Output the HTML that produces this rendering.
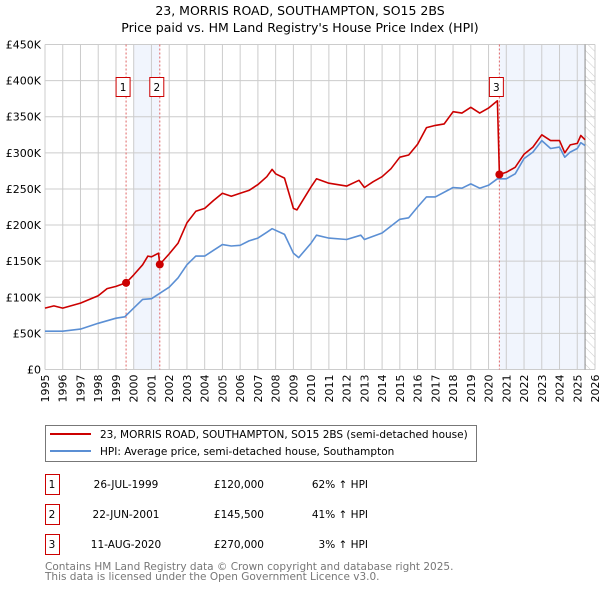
<!DOCTYPE html>
<html><head><meta charset="utf-8"><style>
body{margin:0;background:#fff;font-family:"DejaVu Sans","Liberation Sans",sans-serif;}
svg{display:block}
</style></head><body>
<svg id="c" width="600" height="590" xmlns="http://www.w3.org/2000/svg" font-family="DejaVu Sans, Liberation Sans, sans-serif">
<text x="300" y="15" text-anchor="middle" font-size="12.5">23, MORRIS ROAD, SOUTHAMPTON, SO15 2BS</text>
<text x="300" y="32" text-anchor="middle" font-size="12.5">Price paid vs. HM Land Registry's House Price Index (HPI)</text>
<g id="plot"></g>
<g>
<rect x="45.5" y="425.5" width="431" height="36" fill="#fff" stroke="#777"/>
<line x1="50" y1="434" x2="91" y2="434" stroke="#cc0000" stroke-width="2"/>
<text x="100" y="438" font-size="10.5">23, MORRIS ROAD, SOUTHAMPTON, SO15 2BS (semi-detached house)</text>
<line x1="50" y1="451" x2="91" y2="451" stroke="#5b8fd4" stroke-width="2"/>
<text x="100" y="455" font-size="10.5">HPI: Average price, semi-detached house, Southampton</text>
</g>
<g id="tbl" font-size="10.5"></g>
<text x="45" y="570" font-size="10.5" fill="#777">Contains HM Land Registry data © Crown copyright and database right 2025.</text>
<text x="45" y="580" font-size="10.5" fill="#777">This data is licensed under the Open Government Licence v3.0.</text>
</svg>
<script>
const hpiYears=[1995,1996,1997,1998,1999,1999.5,2000,2000.5,2001,2001.5,2002,2002.5,2003,2003.5,2004,2004.5,2005,2005.5,2006,2006.5,2007,2007.5,2007.8,2008.5,2009,2009.3,2010,2010.3,2011,2012,2012.8,2013,2014,2015,2015.5,2016,2016.5,2017,2018,2018.5,2019,2019.5,2020,2020.5,2021,2021.5,2022,2022.5,2023,2023.5,2024,2024.3,2024.6,2025,2025.2,2025.44];
const hpiValues=[53,53,56,64,71,73,85,97,98,106,114,127,145,157,157,165,173,171,172,178,182,190,195,187,161,155,175,186,182,180,186,180,189,208,210,225,239,239,252,251,257,251,255,264,264,271,292,301,317,306,308,294,301,306,314,310];
const priceYears=[1995,1995.5,1996,1997,1998,1998.5,1999,1999.57,2000,2000.5,2000.8,2001,2001.4,2001.47,2002,2002.5,2003,2003.5,2004,2004.5,2005,2005.5,2006,2006.5,2007,2007.5,2007.8,2008,2008.5,2009,2009.2,2010,2010.3,2011,2012,2012.7,2013,2013.5,2014,2014.5,2015,2015.5,2016,2016.5,2017,2017.5,2018,2018.5,2019,2019.5,2020,2020.5,2020.61,2021,2021.5,2022,2022.5,2023,2023.5,2024,2024.3,2024.6,2025,2025.2,2025.44];
const priceValues=[85,88,85,92,102,112,115,120,131,145,157,156,161,145.5,160,175,203,219,223,234,244,240,244,248,256,267,277,271,265,223,221,253,264,258,254,262,252,260,267,278,294,297,312,335,338,340,357,355,363,355,362,372,270,273,280,298,308,325,317,317,300,311,313,324,318];
const saleYears=[1999.57,2001.47,2020.61];
const saleValues=[120,145.5,270];
const saleLabels=["1","2","3"];
const saleDates=["26-JUL-1999","22-JUN-2001","11-AUG-2020"];
const salePrices=["£120,000","£145,500","£270,000"];
const saleDiffs=["62% ↑ HPI","41% ↑ HPI","3% ↑ HPI"];
const yTicks=[0,50,100,150,200,250,300,350,400,450];
const yTickLabels=["£0","£50K","£100K","£150K","£200K","£250K","£300K","£350K","£400K","£450K"];
const xTicks=[1995,1996,1997,1998,1999,2000,2001,2002,2003,2004,2005,2006,2007,2008,2009,2010,2011,2012,2013,2014,2015,2016,2017,2018,2019,2020,2021,2022,2023,2024,2025,2026];

const L=45,R=595,T=44.5,B=369.5;
const X=y=>L+(y-1995)/(2026-1995)*(R-L);
const Y=v=>B-v/450*(B-T);
const NS="http://www.w3.org/2000/svg";
const g=document.getElementById('plot');
function mk(tag,attrs,parent){const e=document.createElementNS(NS,tag);for(const k in attrs)e.setAttribute(k,attrs[k]);(parent||g).appendChild(e);return e;}

// shading
let e=mk('rect',{x:X(2000),y:T,width:X(saleYears[1])-X(2000),height:B-T,fill:'#eef3fc',opacity:0.8});


e=mk('rect',{x:X(saleYears[2]),y:T,width:X(2025.44)-X(saleYears[2]),height:B-T,fill:'#eef3fc',opacity:0.8});


// hatch
const defs=mk('defs',{});
const pat=mk('pattern',{id:'h',width:6,height:6,patternUnits:'userSpaceOnUse',patternTransform:'rotate(-45)'},defs);
mk('line',{x1:0,y1:0,x2:0,y2:6,stroke:'#ccc','stroke-width':1},pat);
e=mk('rect',{x:X(2025.44),y:T,width:R-X(2025.44),height:B-T,fill:'url(#h)'});



// grid
xTicks.forEach((t,i)=>{
  const x=X(t);
  let l=mk('line',{x1:x,y1:T,x2:x,y2:B,stroke:'#ccc','stroke-width':1});
  
  
  let tx=mk('text',{x:0,y:0,transform:`translate(${x+4},${B+5}) rotate(-90)`,'text-anchor':'end','font-size':11});
  tx.textContent=t;
  
  
});
yTicks.forEach((t,i)=>{
  const y=Y(t);
  let l=mk('line',{x1:L,y1:y,x2:R,y2:y,stroke:'#ccc','stroke-width':1});
  
  
  let tx=mk('text',{x:L-4,y:y+4,'text-anchor':'end','font-size':11});
  tx.textContent=yTickLabels[i];
  
  
});
e=mk('line',{x1:X(2025.44),y1:T,x2:X(2025.44),y2:B,stroke:'#888','stroke-width':1});



// sale vlines
saleYears.forEach((s,i)=>{
  let l=mk('line',{x1:X(s),y1:T,x2:X(s),y2:B,stroke:'#e06666','stroke-width':1,'stroke-dasharray':'2,2'});
  
  
});

function path(xs,vs,col,name){
  const d=xs.map((x,i)=>(i?'L':'M')+X(x).toFixed(1)+','+Y(vs[i]).toFixed(1)).join('');
  const p=mk('path',{d:d,fill:'none',stroke:col,'stroke-width':1.6,'stroke-linejoin':'round'});
  
  
}
path(hpiYears,hpiValues,'#5b8fd4','hpi-line');
path(priceYears,priceValues,'#cc0000','price-line');

saleYears.forEach((s,i)=>{
  let c=mk('circle',{cx:X(s),cy:Y(saleValues[i]),r:4,fill:'#cc0000'});
  
  
  const bx=X(s)-(i==2?3:3);
  let r=mk('rect',{x:bx-7,y:77.5,width:14,height:19,fill:'#fff',stroke:'#cc0000'});
  
  
  let t=mk('text',{x:bx,y:91,'text-anchor':'middle','font-size':10.5});
  t.textContent=saleLabels[i];
  
  
});

// table
const tb=document.getElementById('tbl');
saleLabels.forEach((lab,i)=>{
  const cy=483+i*30;
  let r=mk('rect',{x:45.5,y:cy-8.5,width:14,height:20,fill:'#fff',stroke:'#cc0000'},tb);
  
  
  const cells=[[52,lab,'middle'],[126,saleDates[i],'middle'],[264,salePrices[i],'end'],[368,saleDiffs[i],'end']];
  const nm=['table-index','table-date','table-price','table-hpi-diff'];
  cells.forEach((c,j)=>{
    let t=mk('text',{x:c[0],y:cy+5,'text-anchor':c[2]},tb);
    t.textContent=c[1];
    
    
  });
});
</script>
</body></html>
